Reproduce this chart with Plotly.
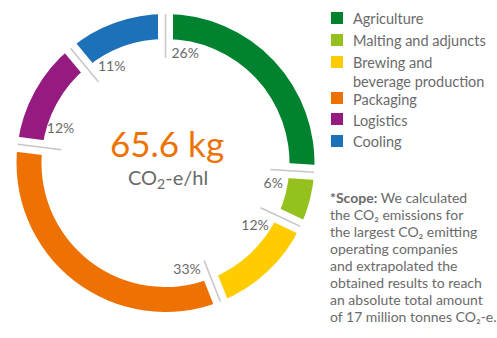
import math
import plotly.graph_objects as go

# Share of CO2 emissions per value-chain stage (percent)
categories = ["Agriculture", "Malting and adjuncts", "Brewing and beverage production",
              "Packaging", "Logistics", "Cooling"]
legend_labels = ["Agriculture", "Malting and adjuncts", "Brewing and<br>beverage production",
                 "Packaging", "Logistics", "Cooling"]
shares = [26, 6, 12, 33, 12, 11]
colors = ["#00822f", "#95c11f", "#ffcc00", "#ee7203", "#951b81", "#1d71b8"]

total_value = "65.6 kg"
total_unit = "CO<sub>2</sub>-e/hl"
scope_lines = [
    "<b>*Scope:</b> We calculated",
    "the CO₂ emissions for",
    "the largest CO₂ emitting",
    "operating companies",
    "and extrapolated the",
    "obtained results to reach",
    "an absolute total amount",
    "of 17 million tonnes CO₂-e.",
]

W, H = 497, 338
TEXT = "#6a6a6a"
FONT = "Lato"

# ring geometry (radial units = pixels)
R_MAX = 152
R_IN, R_OUT = 124, 149
SEP_IN = 105
LABEL_R = 110
CX, CY = 165.5, 163

starts = []
acc = 0
for s in shares:
    starts.append(acc * 3.6)
    acc += s
centers = [st + s * 1.8 for st, s in zip(starts, shares)]
widths = [s * 3.6 for s in shares]

fig = go.Figure()

# ring segments
for cat, s, th, w, c in zip(categories, shares, centers, widths, colors):
    fig.add_trace(go.Barpolar(
        r=[R_OUT - R_IN], base=[R_IN], theta=[th], width=[w],
        marker=dict(color=c, line=dict(width=0)),
        name=cat, showlegend=False, hoverinfo="name",
    ))

# white gaps between segments, then thin grey separators
for st in starts:
    fig.add_trace(go.Scatterpolar(
        r=[R_IN - 3, R_OUT + 3], theta=[st, st], mode="lines",
        line=dict(color="white", width=15), showlegend=False, hoverinfo="skip",
    ))
for st in starts:
    fig.add_trace(go.Scatterpolar(
        r=[SEP_IN, R_OUT], theta=[st, st], mode="lines",
        line=dict(color="#c6c6c6", width=1.5), showlegend=False, hoverinfo="skip",
    ))

# percentage labels just inside each segment's leading edge
lab_text = [f"{s}%" for s in shares]
lab_theta = [st + math.degrees((len(t) * 4.6 + 6) / LABEL_R) for st, t in zip(starts, lab_text)]
fig.add_trace(go.Scatterpolar(
    r=[LABEL_R] * len(shares), theta=lab_theta, mode="text", text=lab_text,
    textfont=dict(family=FONT, size=14, color=TEXT), textposition="middle center",
    showlegend=False, hoverinfo="skip",
))

dom_x = [(CX - R_MAX) / W, (CX + R_MAX) / W]
dom_y = [(H - CY - R_MAX) / H, (H - CY + R_MAX) / H]

fig.update_layout(
    width=W, height=H,
    margin=dict(l=0, r=0, t=0, b=0),
    paper_bgcolor="white", plot_bgcolor="white",
    showlegend=False,
    polar=dict(
        domain=dict(x=dom_x, y=dom_y),
        bgcolor="rgba(0,0,0,0)",
        radialaxis=dict(range=[0, R_MAX], visible=False),
        angularaxis=dict(rotation=90, direction="clockwise", visible=False),
        bargap=0,
    ),
)

annotations = [
    dict(x=167 / W, y=1 - 143 / H, xref="paper", yref="paper", text=total_value,
         showarrow=False, font=dict(family=FONT, size=35, color="#ee7203"),
         xanchor="center", yanchor="middle"),
    dict(x=168 / W, y=1 - 178 / H, xref="paper", yref="paper", text=total_unit,
         showarrow=False, font=dict(family=FONT, size=20, color=TEXT),
         xanchor="center", yanchor="middle"),
]

# legend: coloured squares with labels
row_y = [18, 40, 62, 98, 119, 141]
shapes = []
for lab, c, yy in zip(legend_labels, colors, row_y):
    shapes.append(dict(type="rect", xref="paper", yref="paper",
                       x0=331 / W, x1=343 / W, y0=1 - (yy + 6) / H, y1=1 - (yy - 6) / H,
                       fillcolor=c, line=dict(width=0)))
    annotations.append(dict(x=351 / W, y=1 - (yy - 9.5) / H, xref="paper", yref="paper",
                            text=lab, showarrow=False, align="left",
                            font=dict(family=FONT, size=14.5, color=TEXT),
                            xanchor="left", yanchor="top"))

# scope note, one annotation per line for even spacing
for i, line in enumerate(scope_lines):
    annotations.append(dict(x=328 / W, y=1 - (197 + 17 * i) / H, xref="paper", yref="paper",
                            text=line, showarrow=False, align="left",
                            font=dict(family=FONT, size=14, color=TEXT),
                            xanchor="left", yanchor="middle"))

fig.update_layout(shapes=shapes, annotations=annotations)
fig.write_html("out.html")
